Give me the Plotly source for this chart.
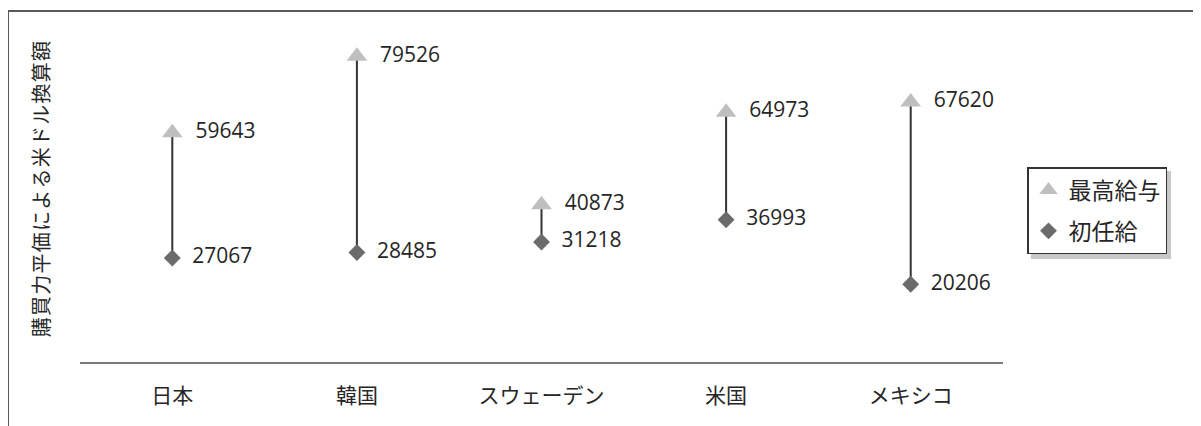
import plotly.graph_objects as go

categories = ["日本", "韓国", "スウェーデン", "米国", "メキシコ"]
max_salary = [59643, 79526, 40873, 64973, 67620]
starting_salary = [27067, 28485, 31218, 36993, 20206]
series_names = ["最高給与", "初任給"]
y_title = "購買力平価による米ドル換算額"

W, H = 1201, 426
OFF = 8  # page body margin
PL, PR, PT, PB = 80 - OFF, 1003 - OFF, 16 - OFF, 362 - OFF
pw, ph = PR - PL, PB - PT

def px_x(x):
    return (x - OFF - PL) / pw

def px_y(y):
    return (PB - (y - OFF)) / ph

fig = go.Figure()

# connecting lines
lx, ly = [], []
for c, lo, hi in zip(categories, starting_salary, max_salary):
    lx += [c, c, None]
    ly += [lo, hi, None]
fig.add_trace(go.Scatter(x=lx, y=ly, mode="lines", line=dict(color="#333333", width=2),
                         showlegend=False, hoverinfo="skip"))

nb = "\u00a0\u00a0"
fig.add_trace(go.Scatter(
    x=categories, y=max_salary, name=series_names[0], mode="markers+text",
    marker=dict(symbol="triangle-up", size=18, color="#bfbfbf"),
    text=[nb + str(v) for v in max_salary], textposition="middle right",
    textfont=dict(family="Open Sans", size=21, color="#262626"),
    legendgroup="a"))
fig.add_trace(go.Scatter(
    x=categories, y=starting_salary, name=series_names[1], mode="markers+text",
    marker=dict(symbol="diamond", size=13, color="#6b6b6b"),
    text=[nb + str(v) for v in starting_salary], textposition="middle right",
    textfont=dict(family="Open Sans", size=21, color="#262626"),
    legendgroup="b"))

# frame lines (top and left visible)
fig.add_shape(type="line", xref="paper", yref="paper", x0=px_x(8), x1=px_x(W + 20),
              y0=px_y(11), y1=px_y(11), line=dict(color="#5a5a5a", width=2))
fig.add_shape(type="line", xref="paper", yref="paper", x0=px_x(8), x1=px_x(8),
              y0=px_y(11), y1=px_y(H + 20), line=dict(color="#5a5a5a", width=2))
# legend shadow
fig.add_shape(type="rect", xref="paper", yref="paper", x0=px_x(1031), x1=px_x(1171),
              y0=px_y(171), y1=px_y(259), line=dict(width=0), fillcolor="#c8c8c8",
              layer="above")

fig.update_layout(
    width=W, height=H,
    margin=dict(l=PL, r=W - PR, t=PT, b=H - PB, autoexpand=False),
    paper_bgcolor="white", plot_bgcolor="white",
    font=dict(family="Noto Sans CJK JP", color="#262626"),
    showlegend=True,
    legend=dict(x=px_x(1027), y=px_y(167), xanchor="left", yanchor="top",
                bgcolor="white", bordercolor="#333333", borderwidth=1.5,
                font=dict(family="Noto Sans CJK JP", size=23, color="#262626"),
                tracegroupgap=8, itemwidth=30),
    xaxis=dict(type="category", range=[-0.5, 4.5], showline=True, linecolor="#7a7a7a",
               linewidth=2, showgrid=False, ticks="", ticklabelstandoff=14,
               tickfont=dict(family="Noto Sans CJK JP", size=21, color="#262626"),
               fixedrange=True),
    yaxis=dict(range=[0, 90000], showline=False, showgrid=False, zeroline=False,
               showticklabels=False, ticks="",
               title=dict(text="\u200a".join(y_title), standoff=24,
                          font=dict(family="Noto Sans CJK JP", size=20, color="#262626")),
               automargin=False),
)

fig.write_html("out.html")
